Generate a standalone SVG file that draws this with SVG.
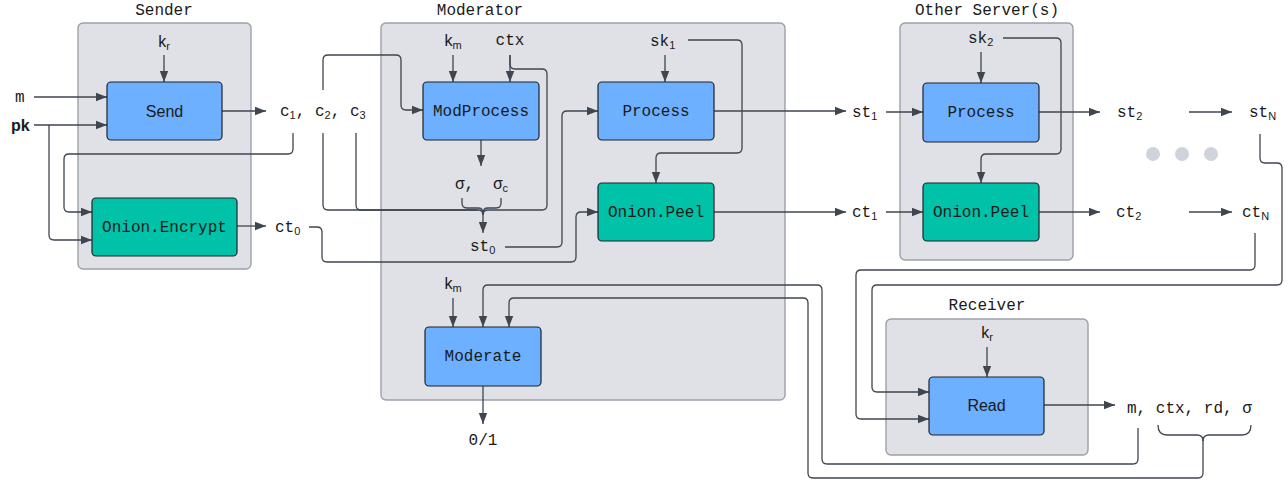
<svg xmlns="http://www.w3.org/2000/svg" width="1288" height="482" viewBox="0 0 1288 482">
<defs>
<marker id="ah" markerUnits="userSpaceOnUse" markerWidth="12" markerHeight="10" refX="11" refY="5" orient="auto">
<path d="M0,0.8 L11,5 L0,9.2 Z" fill="#3f4650"/>
</marker>
<style>
.cont{fill:#dfe1e6;stroke:#9ca1a9;stroke-width:1.4}
.blue{fill:#6cb0ff;stroke:#1e2228;stroke-width:1.2}
.teal{fill:#00c2a8;stroke:#1e2228;stroke-width:1.2}
.ln{fill:none;stroke:#3f4650;stroke-width:1.3}
.ar{marker-end:url(#ah)}
.mono{font-family:"Liberation Mono","DejaVu Sans Mono",monospace;font-size:16px;fill:#1a1a1a}
.sans{font-family:"Liberation Sans",Arial,sans-serif;font-size:16px;fill:#1a1a1a}
.sub{font-family:"Liberation Sans",Arial,sans-serif;font-size:11px}
.mid{text-anchor:middle}
.dot{fill:#cfd4dc}
</style>
</defs>
<rect width="1288" height="482" fill="#ffffff"/>

<g id="sender">
<rect class="cont" x="78" y="23" width="173" height="246" rx="5"/>
<text class="mono mid" x="164" y="15">Sender</text>
</g>
<g id="moderator">
<rect class="cont" x="381" y="23" width="404" height="377" rx="5"/>
<text class="mono mid" x="480" y="15">Moderator</text>
</g>
<g id="other-servers">
<rect class="cont" x="900" y="23" width="173" height="237" rx="5"/>
<text class="mono mid" x="987" y="15">Other Server(s)</text>
</g>
<g id="receiver">
<rect class="cont" x="886" y="319" width="202" height="136" rx="5"/>
<text class="mono mid" x="987" y="310">Receiver</text>
</g>

<g id="connectors">
<path class="ln ar" d="M34 97 H107"/>
<path class="ln ar" d="M34 125 H107"/>
<path class="ln ar" d="M49 125 V235 Q49 240 54 240 H92"/>
<path class="ln ar" d="M164 55 V82"/>
<path class="ln ar" d="M222 111 H266"/>
<path class="ln ar" d="M293 133 V149 Q293 154 288 154 H69 Q64 154 64 159 V207 Q64 212 69 212 H92"/>
<path class="ln ar" d="M236 226 H266"/>
<path class="ln ar" d="M309 227 H317 Q322 227 322 232 V257 Q322 262 327 262 H571 Q576 262 576 257 V217 Q576 212 581 212 H598"/>
<path class="ln ar" d="M323 90 V60 Q323 55 328 55 H396 Q401 55 401 60 V105 Q401 110 406 110 H423"/>
<path class="ln" d="M323 133 V205 Q323 210 328 210 H478 Q483 210 483 215"/>
<path class="ln" d="M356 133 V205 Q356 210 361 210 H478"/>
<path class="ln" d="M510 55 V64 Q510 69 515 69 H542 Q547 69 547 74 V205 Q547 210 542 210 H488 Q483 210 483 215"/>
<path class="ln" d="M462 198 V203 Q462 208 467 208 H478 Q483 208 483 213"/>
<path class="ln" d="M501 198 V203 Q501 208 496 208 H488 Q483 208 483 213"/>
<path class="ln ar" d="M483 212 V233"/>
<path class="ln ar" d="M453 55 V82"/>
<path class="ln ar" d="M510 55 V82"/>
<path class="ln ar" d="M481 140 V166"/>
<path class="ln ar" d="M505 247 H557 Q562 247 562 242 V116 Q562 111 567 111 H598"/>
<path class="ln ar" d="M665 55 V82"/>
<path class="ln ar" d="M688 40 H737 Q742 40 742 45 V148 Q742 153 737 153 H661 Q656 153 656 158 V183"/>
<path class="ln ar" d="M714 111 H846"/>
<path class="ln ar" d="M714 212 H846"/>
<path class="ln ar" d="M886 112 H923"/>
<path class="ln ar" d="M886 212 H923"/>
<path class="ln ar" d="M981 52 V83"/>
<path class="ln ar" d="M1003 38 H1056 Q1061 38 1061 43 V149 Q1061 154 1056 154 H986 Q981 154 981 159 V183"/>
<path class="ln ar" d="M1039 112 H1100"/>
<path class="ln ar" d="M1039 212 H1100"/>
<path class="ln ar" d="M1189 112 H1232"/>
<path class="ln ar" d="M1189 212 H1232"/>
<path class="ln ar" d="M1260 134 V158 Q1260 163 1265 163 H1277 Q1282 163 1282 168 V280 Q1282 285 1277 285 H877 Q872 285 872 290 V387 Q872 392 877 392 H929"/>
<path class="ln ar" d="M1255 233 V265 Q1255 270 1250 270 H861 Q856 270 856 275 V414 Q856 419 861 419 H929"/>
<path class="ln ar" d="M987 347 V377"/>
<path class="ln ar" d="M1044 405 H1115"/>
<path class="ln ar" d="M1138 428 V459 Q1138 464 1133 464 H827 Q822 464 822 459 V290 Q822 285 817 285 H488 Q483 285 483 290 V327"/>
<path class="ln" d="M1158 425 Q1158 435 1167 435 H1197 Q1203 435 1203 441"/>
<path class="ln" d="M1251 425 Q1251 435 1242 435 H1209 Q1203 435 1203 441"/>
<path class="ln ar" d="M1203 440 V473 Q1203 478 1198 478 H813 Q808 478 808 473 V303 Q808 298 803 298 H514 Q509 298 509 303 V327"/>
<path class="ln ar" d="M453 298 V327"/>
<path class="ln ar" d="M483 386 V424"/>
</g>

<g id="send">
<rect class="blue" x="107" y="82" width="115" height="58" rx="4"/>
<text class="sans mid" x="164.5" y="117">Send</text>
</g>
<g id="onion-encrypt">
<rect class="teal" x="92" y="198" width="145" height="58" rx="4"/>
<text class="mono mid" x="164.5" y="232">Onion.Encrypt</text>
</g>
<g id="modprocess">
<rect class="blue" x="423" y="82" width="116" height="58" rx="4"/>
<text class="mono mid" x="481" y="116">ModProcess</text>
</g>
<g id="process-1">
<rect class="blue" x="598" y="82" width="116" height="58" rx="4"/>
<text class="mono mid" x="656" y="116">Process</text>
</g>
<g id="onion-peel-1">
<rect class="teal" x="598" y="183" width="116" height="58" rx="4"/>
<text class="mono mid" x="656" y="217">Onion.Peel</text>
</g>
<g id="moderate">
<rect class="blue" x="425" y="327" width="116" height="59" rx="4"/>
<text class="mono mid" x="483" y="361">Moderate</text>
</g>
<g id="process-2">
<rect class="blue" x="923" y="83" width="116" height="59" rx="4"/>
<text class="mono mid" x="981" y="117">Process</text>
</g>
<g id="onion-peel-2">
<rect class="teal" x="923" y="183" width="116" height="58" rx="4"/>
<text class="mono mid" x="981" y="217">Onion.Peel</text>
</g>
<g id="read">
<rect class="blue" x="929" y="377" width="115" height="58" rx="4"/>
<text class="sans mid" x="986.5" y="411">Read</text>
</g>
<g id="dots">
<circle class="dot" cx="1153" cy="154" r="7"/>
<circle class="dot" cx="1182" cy="154" r="7"/>
<circle class="dot" cx="1211" cy="154" r="7"/>
</g>

<g id="labels">
<text class="sans mid" x="164" y="47">k<tspan class="sub" dy="3">r</tspan></text>
<text class="mono" x="15" y="102">m</text>
<text class="sans" x="11" y="131" font-weight="bold">pk</text>
<text class="mono" x="280" y="116">c<tspan class="sub" dy="3">1</tspan><tspan dy="-3">, c</tspan><tspan class="sub" dy="3">2</tspan><tspan dy="-3">, c</tspan><tspan class="sub" dy="3">3</tspan></text>
<text class="mono" x="275" y="232">ct<tspan class="sub" dy="3">0</tspan></text>
<text class="sans mid" x="453" y="46">k<tspan class="sub" dy="3">m</tspan></text>
<text class="mono mid" x="510" y="45">ctx</text>
<text class="mono" x="650" y="46">sk<tspan class="sub" dy="3">1</tspan></text>
<text class="mono" x="455" y="189">σ,</text>
<text class="mono" x="493" y="189">σ<tspan class="sub" dy="3">c</tspan></text>
<text class="mono" x="470" y="251">st<tspan class="sub" dy="3">0</tspan></text>
<text class="mono" x="852" y="117">st<tspan class="sub" dy="3">1</tspan></text>
<text class="mono" x="852" y="217">ct<tspan class="sub" dy="3">1</tspan></text>
<text class="mono" x="968" y="43">sk<tspan class="sub" dy="3">2</tspan></text>
<text class="mono" x="1117" y="117">st<tspan class="sub" dy="3">2</tspan></text>
<text class="mono" x="1116" y="217">ct<tspan class="sub" dy="3">2</tspan></text>
<text class="mono" x="1249" y="117">st<tspan class="sub" dy="3">N</tspan></text>
<text class="mono" x="1242" y="217">ct<tspan class="sub" dy="3">N</tspan></text>
<text class="sans mid" x="453" y="289">k<tspan class="sub" dy="3">m</tspan></text>
<text class="mono mid" x="483" y="445">0/1</text>
<text class="sans mid" x="987" y="338">k<tspan class="sub" dy="3">r</tspan></text>
<text class="mono" x="1127" y="413">m, ctx, rd, σ</text>
</g>
</svg>
